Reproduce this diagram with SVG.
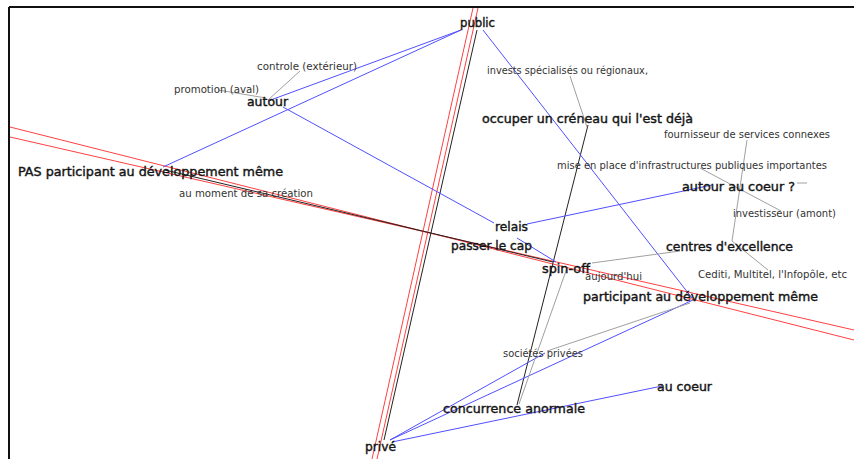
<svg xmlns="http://www.w3.org/2000/svg" width="854" height="459" viewBox="0 0 854 459">
<style>
.b{stroke:#5050ff;stroke-width:1;fill:none}
.r{stroke:#ff4040;stroke-width:1;fill:none}
.k{stroke:#222;stroke-width:1;fill:none}
.g{stroke:#a0a0a0;stroke-width:1;fill:none}
.n{font-family:"DejaVu Sans",Verdana,sans-serif;font-size:12px;fill:#151515;stroke:#151515;stroke-width:0.4}
.s{font-family:"DejaVu Sans",Verdana,sans-serif;font-size:10px;fill:#333}
</style>
<rect x="0" y="0" width="854" height="459" fill="#fff"/>
<g id="frame" stroke="#111" stroke-width="2" fill="none">
<line x1="9" y1="7" x2="854" y2="7"/>
<line x1="9" y1="7" x2="9" y2="459"/>
</g>
<g id="connectors">
<line class="r" x1="473" y1="8" x2="372" y2="459"/>
<line class="r" x1="478" y1="8" x2="377" y2="459"/>
<line class="r" x1="10" y1="127" x2="854" y2="340"/>
<line class="r" x1="10" y1="137" x2="854" y2="330"/>
<line class="k" x1="477" y1="30" x2="384" y2="440"/>
<line class="k" x1="165" y1="170" x2="553" y2="262"/>
<line class="k" x1="588" y1="125" x2="517" y2="405"/>
<line class="b" x1="461" y1="30" x2="163" y2="167"/>
<line class="b" x1="461" y1="30" x2="268" y2="101"/>
<line class="b" x1="283" y1="107" x2="494" y2="223"/>
<line class="b" x1="517" y1="238" x2="556" y2="262"/>
<line class="b" x1="527" y1="224" x2="712" y2="185"/>
<line class="b" x1="483" y1="30" x2="692" y2="298"/>
<line class="b" x1="390" y1="440" x2="545" y2="353"/>
<line class="b" x1="390" y1="440" x2="693" y2="300"/>
<line class="b" x1="392" y1="442" x2="662" y2="386"/>
<line class="g" x1="300" y1="71" x2="268" y2="100"/>
<line class="g" x1="218" y1="90" x2="266" y2="98"/>
<line class="g" x1="570" y1="76" x2="587" y2="127"/>
<line class="g" x1="592" y1="263" x2="680" y2="251"/>
<line class="g" x1="747" y1="140" x2="732" y2="241"/>
<line class="g" x1="732" y1="241" x2="768" y2="270"/>
<line class="g" x1="700" y1="168" x2="781" y2="211"/>
<line class="g" x1="797" y1="183" x2="807" y2="183"/>
<line class="g" x1="690" y1="303" x2="547" y2="351"/>
<line class="g" x1="567" y1="268" x2="519" y2="404"/>
</g>
<g id="n-public"><text class="n" x="460" y="27" textLength="35" lengthAdjust="spacingAndGlyphs">public</text></g>
<g id="n-autour"><text class="n" x="247" y="106" textLength="41" lengthAdjust="spacingAndGlyphs">autour</text></g>
<g id="n-pas"><text class="n" x="18" y="176" textLength="265" lengthAdjust="spacingAndGlyphs">PAS participant au développement même</text></g>
<g id="n-moment"><text class="s" x="179" y="197" textLength="134" lengthAdjust="spacingAndGlyphs">au moment de sa création</text></g>
<g id="n-promotion"><text class="s" x="174" y="93" textLength="85" lengthAdjust="spacingAndGlyphs">promotion (aval)</text></g>
<g id="n-controle"><text class="s" x="257" y="70" textLength="100" lengthAdjust="spacingAndGlyphs">controle (extérieur)</text></g>
<g id="n-invests"><text class="s" x="487" y="74" textLength="161" lengthAdjust="spacingAndGlyphs">invests spécialisés ou régionaux,</text></g>
<g id="n-occuper"><text class="n" x="482" y="123" textLength="211" lengthAdjust="spacingAndGlyphs">occuper un créneau qui l'est déjà</text></g>
<g id="n-fournisseur"><text class="s" x="664" y="138" textLength="166" lengthAdjust="spacingAndGlyphs">fournisseur de services connexes</text></g>
<g id="n-mise"><text class="s" x="557" y="169" textLength="270" lengthAdjust="spacingAndGlyphs">mise en place d'infrastructures publiques importantes</text></g>
<g id="n-autourcoeur"><text class="n" x="682" y="191" textLength="113" lengthAdjust="spacingAndGlyphs">autour au coeur ?</text></g>
<g id="n-investisseur"><text class="s" x="733" y="217" textLength="103" lengthAdjust="spacingAndGlyphs">investisseur (amont)</text></g>
<g id="n-relais"><text class="n" x="495" y="231" textLength="33" lengthAdjust="spacingAndGlyphs">relais</text></g>
<g id="n-passer"><text class="n" x="451" y="250" textLength="81" lengthAdjust="spacingAndGlyphs">passer le cap</text></g>
<g id="n-centres"><text class="n" x="666" y="251" textLength="127" lengthAdjust="spacingAndGlyphs">centres d'excellence</text></g>
<g id="n-spinoff"><text class="n" x="542" y="273" textLength="48" lengthAdjust="spacingAndGlyphs">spin-off</text></g>
<g id="n-cediti"><text class="s" x="698" y="278" textLength="149" lengthAdjust="spacingAndGlyphs">Cediti, Multitel, l'Infopôle, etc</text></g>
<g id="n-aujourdhui"><text class="s" x="585" y="280" textLength="57" lengthAdjust="spacingAndGlyphs">aujourd'hui</text></g>
<g id="n-participant"><text class="n" x="583" y="301" textLength="235" lengthAdjust="spacingAndGlyphs">participant au développement même</text></g>
<g id="n-societes"><text class="s" x="503" y="357" textLength="80" lengthAdjust="spacingAndGlyphs">sociétés privées</text></g>
<g id="n-aucoeur"><text class="n" x="657" y="391" textLength="55" lengthAdjust="spacingAndGlyphs">au coeur</text></g>
<g id="n-concurrence"><text class="n" x="443" y="413" textLength="142" lengthAdjust="spacingAndGlyphs">concurrence anormale</text></g>
<g id="n-prive"><text class="n" x="365" y="451" textLength="31" lengthAdjust="spacingAndGlyphs">privé</text></g>
</svg>
